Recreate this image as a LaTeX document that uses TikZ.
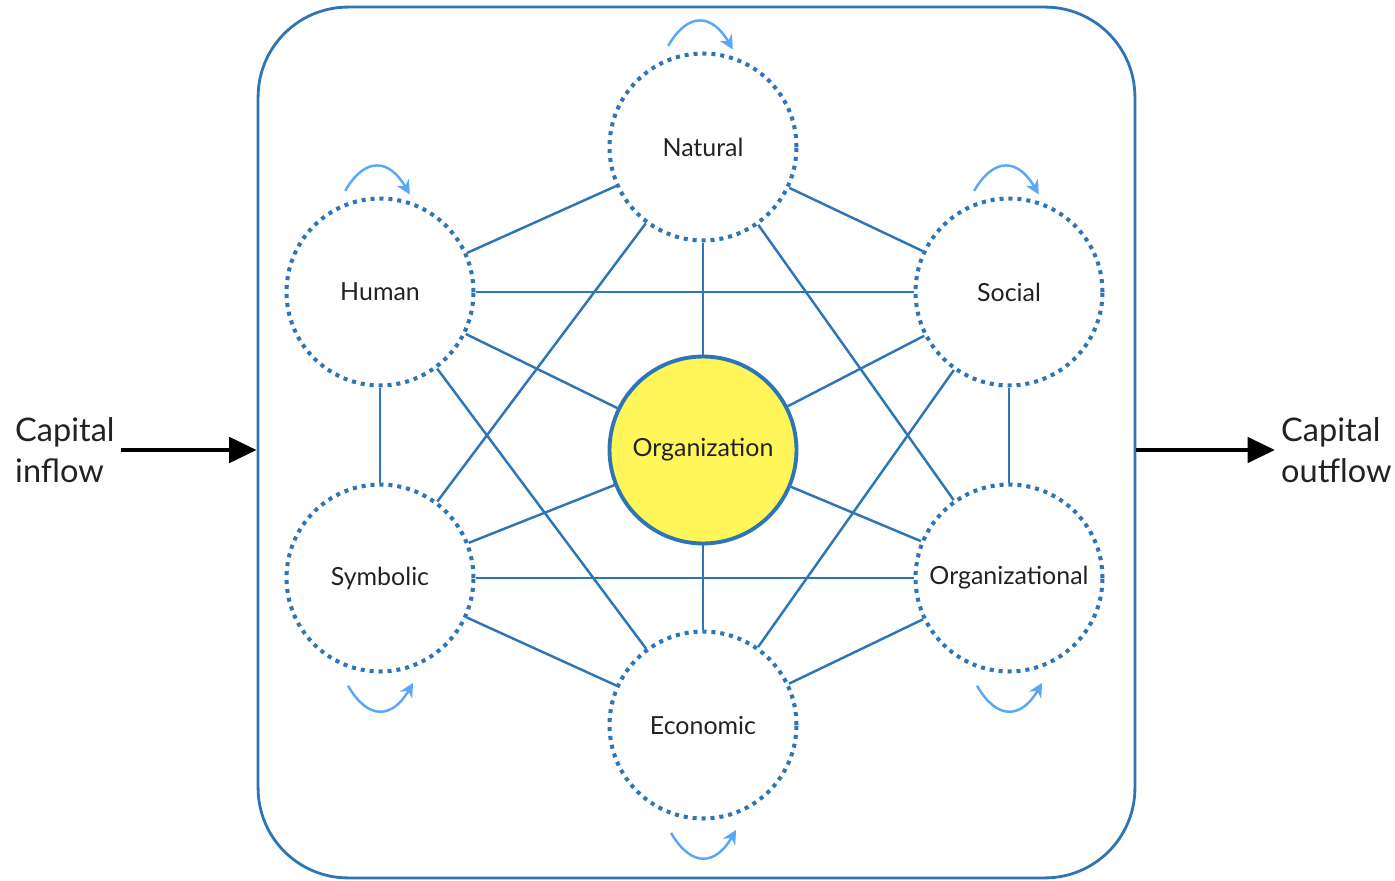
\documentclass[tikz,border=0pt]{standalone}
\usepackage{fontspec}
\setmainfont{Lato}
\usetikzlibrary{arrows.meta,calc}

\definecolor{linkblue}{RGB}{46,117,182}
\definecolor{flowblue}{RGB}{90,168,245}
\definecolor{orgyellow}{RGB}{255,246,90}
\definecolor{labeltext}{RGB}{34,34,34}

\begin{document}
\begin{tikzpicture}[x=0.02cm,y=0.02cm,
    capital/.style={circle,draw=linkblue,line width=2.3pt,dash pattern=on 2.3pt off 2.8pt,
        minimum size=3.74cm,text=labeltext,font=\fontsize{14.2}{17}\selectfont},
    core/.style={circle,draw=linkblue,fill=orgyellow,line width=2.2pt,
        minimum size=3.74cm,text=labeltext,font=\fontsize{14.2}{17}\selectfont},
    link/.style={draw=linkblue,line width=1.4pt},
    selfflow/.style={draw=flowblue,line width=1.4pt,-{Stealth[length=8pt,width=8pt]}},
    flowlabel/.style={anchor=west,align=left,text=labeltext,font=\fontsize{18.5}{23.5}\selectfont},
    bigarrow/.style={line width=2.8pt,-{Triangle[length=0.55cm,width=0.5cm]}}]
    \useasboundingbox (0,0) rectangle (1395,880);

    \node[draw=linkblue,line width=1.6pt,rounded corners=1.8cm,
        minimum width=17.54cm,minimum height=17.42cm] (frame) at (696.5,437.5) {};

    \node[capital] (nat) at (703,733) {Natural};
    \node[capital] (hum) at (380,588) {Human};
    \node[capital] (soc) at (1009,588) {Social};
    \node[capital] (sym) at (380,302) {Symbolic};
    \node[capital] (orgl) at (1009,302) {Organizational};
    \node[capital] (eco) at (703,155) {Economic};
    \node[core] (org) at (703,430) {Organization};

    \path[link] (nat) edge (hum) edge (soc) edge (org) edge (sym) edge (orgl)
                (hum) edge (soc) edge (org) edge (sym) edge (eco)
                (soc) edge (org) edge (orgl) edge (eco)
                (sym) edge (org) edge (orgl) edge (eco)
                (orgl) edge (org) edge (eco)
                (eco) edge (org);

    % stocks renewing themselves
    \foreach \n in {nat,hum,soc}
        \draw[selfflow] ($(\n)+(109:2.14cm)$) to[out=60,in=120,looseness=1.6] ($(\n)+(73:2.04cm)$);
    \foreach \n in {sym,orgl,eco}
        \draw[selfflow] ($(\n)+(253.5:2.25cm)$) to[out=-60,in=-120,looseness=1.6] ($(\n)+(287.5:2.2cm)$);

    \node[flowlabel] (cin) at (9,430) {Capital\\inflow};
    \node[flowlabel] (cout) at (1275,430) {Capital\\outflow};
    \draw[bigarrow] (cin.east) -- (cin.east -| frame.west);
    \draw[bigarrow] (cout.west -| frame.east) -- (cout.west);
\end{tikzpicture}
\end{document}
